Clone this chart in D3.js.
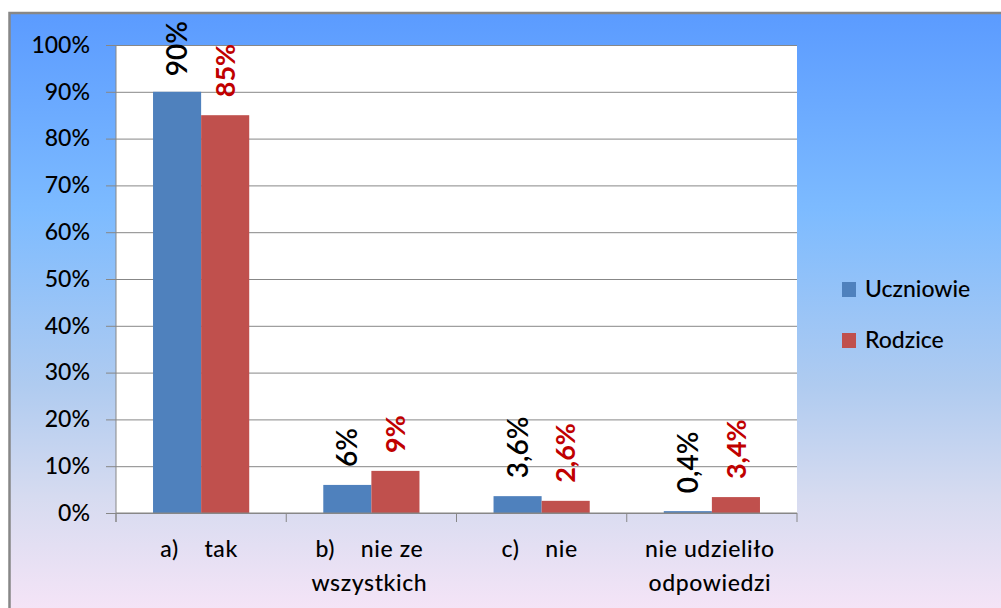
<!DOCTYPE html>
<html>
<head>
<meta charset="utf-8">
<script src="https://cdn.jsdelivr.net/npm/d3@7"></script>
<style>
  body { margin: 0; background: #fff; }
  svg { display: block; }
  text { font-family: Lato, "DejaVu Sans", sans-serif; font-weight: 500; }
</style>
</head>
<body>
<script>
// chart data
var categories = ["a)    tak", "b)    nie ze\nwszystkich", "c)    nie", "nie udzieliło\nodpowiedzi"];
var seriesNames = ["Uczniowie", "Rodzice"];
var uczniowie = [90, 6, 3.6, 0.4];
var rodzice = [85, 9, 2.6, 3.4];
var yTicks = [0, 10, 20, 30, 40, 50, 60, 70, 80, 90, 100];

var width = 1001, height = 608;
var plot = { left: 116, right: 797, top: 45, bottom: 513 };
var colors = { Uczniowie: "#4F81BD", Rodzice: "#C0504D" };
var labelColors = { Uczniowie: "#000000", Rodzice: "#C00000" };

var pl = d3.formatLocale({ decimal: ",", thousands: " ", grouping: [3], currency: ["", ""] });
var pct = function(v) { return (Number.isInteger(v) ? v : pl.format(".1f")(v)) + "%"; };

var svg = d3.select("body").append("svg")
    .attr("width", width)
    .attr("height", height);

// background gradient of the chart frame
var grad = svg.append("defs").append("linearGradient")
    .attr("id", "bg").attr("x1", 0).attr("y1", 0).attr("x2", 0).attr("y2", 1);
[[0, "#5B9BFF"], [0.32, "#7DBBFF"], [0.6, "#AFCBF0"], [0.78, "#D6DBF0"], [1, "#FBE6F8"]].forEach(function(s) {
  grad.append("stop").attr("offset", s[0]).attr("stop-color", s[1]);
});

svg.append("rect")
    .attr("x", 9.5).attr("y", 13)
    .attr("width", 1010).attr("height", 620)
    .attr("fill", "url(#bg)")
    .attr("stroke", "#878787")
    .attr("stroke-width", 2.5);

svg.append("rect")
    .attr("x", plot.left).attr("y", plot.top)
    .attr("width", plot.right - plot.left)
    .attr("height", plot.bottom - plot.top)
    .attr("fill", "#fff");

var x0 = d3.scaleBand()
    .domain(d3.range(categories.length))
    .range([plot.left, plot.right])
    .paddingInner(0).paddingOuter(0);

var x1 = d3.scaleBand()
    .domain(seriesNames)
    .range([0, x0.bandwidth()])
    .paddingInner(0).paddingOuter(0.77);

var y = d3.scaleLinear().domain([0, 100]).range([plot.bottom, plot.top]);

// gridlines + y axis
var yAxis = d3.axisLeft(y)
    .tickValues(yTicks)
    .tickSize(-(plot.right - plot.left))
    .tickPadding(0)
    .tickFormat(function(d) { return d + "%"; });

var gy = svg.append("g")
    .attr("transform", "translate(" + plot.left + ",0)")
    .call(yAxis);
gy.select(".domain").remove();
gy.selectAll(".tick line")
    .attr("x1", -10)
    .attr("stroke", "#878787");
gy.selectAll(".tick text")
    .attr("x", -26)
    .attr("font-size", 23)
    .attr("font-family", "Lato")
    .attr("fill", "#000");

// vertical axis line
svg.append("line")
    .attr("x1", plot.left).attr("x2", plot.left)
    .attr("y1", plot.top).attr("y2", plot.bottom + 9)
    .attr("stroke", "#878787");

// category ticks
var bounds = d3.range(categories.length + 1).map(function(i) {
  return i < categories.length ? x0(i) : plot.right;
});
svg.selectAll(".ctick").data(bounds).enter().append("line")
    .attr("x1", function(d) { return d; }).attr("x2", function(d) { return d; })
    .attr("y1", plot.bottom).attr("y2", plot.bottom + 9)
    .attr("stroke", "#878787");

// bars
var rows = categories.map(function(c, i) {
  return [
    { cat: i, key: "Uczniowie", value: uczniowie[i] },
    { cat: i, key: "Rodzice", value: rodzice[i] }
  ];
});

var groups = svg.selectAll(".grp").data(rows).enter().append("g")
    .attr("transform", function(d, i) { return "translate(" + x0(i) + ",0)"; });

groups.selectAll("rect").data(function(d) { return d; }).enter().append("rect")
    .attr("x", function(d) { return x1(d.key); })
    .attr("y", function(d) { return y(d.value); })
    .attr("width", x1.bandwidth())
    .attr("height", function(d) { return y(0) - y(d.value); })
    .attr("fill", function(d) { return colors[d.key]; });

// x axis baseline over bars
svg.append("line")
    .attr("x1", plot.left).attr("x2", plot.right)
    .attr("y1", plot.bottom).attr("y2", plot.bottom)
    .attr("stroke", "#878787");

// rotated value labels
groups.selectAll(".lbl").data(function(d) { return d; }).enter().append("text")
    .attr("class", "lbl")
    .attr("font-size", function(d) { return d.key === "Rodzice" ? 27 : 28; })
    .style("font-weight", function(d) { return d.key === "Rodzice" ? 700 : 600; })
    .attr("fill", function(d) { return labelColors[d.key]; })
    .attr("dy", "0.36em")
    .text(function(d) { return pct(d.value); })
    .each(function(d) {
      var len = this.getComputedTextLength();
      var cx = x1(d.key) + x1.bandwidth() / 2;
      var by = Math.max(y(d.value) - 18, 21 + len);
      d3.select(this).attr("transform", "translate(" + cx + "," + by + ") rotate(-90)");
    });

// category labels
svg.selectAll(".cat").data(categories).enter().append("text")
    .attr("class", "cat")
    .attr("text-anchor", "middle")
    .attr("font-size", 23)
    .attr("letter-spacing", 0.6)
    .attr("fill", "#000")
    .style("white-space", "pre")
    .each(function(d, i) {
      var t = d3.select(this);
      d.split("\n").forEach(function(line, j) {
        t.append("tspan")
            .attr("x", x0(i) + x0.bandwidth() / 2 - 2)
            .attr("y", 557 + j * 34)
            .text(line);
      });
    });

// legend
var legend = svg.selectAll(".leg").data(seriesNames).enter().append("g")
    .attr("transform", function(d, i) { return "translate(842," + (282 + i * 51) + ")"; });
legend.append("rect")
    .attr("width", 14).attr("height", 15)
    .attr("fill", function(d) { return colors[d]; });
legend.append("text")
    .attr("x", 23).attr("y", 15)
    .attr("font-size", 23)
    .attr("fill", "#000")
    .text(function(d) { return d; });
</script>
</body>
</html>
